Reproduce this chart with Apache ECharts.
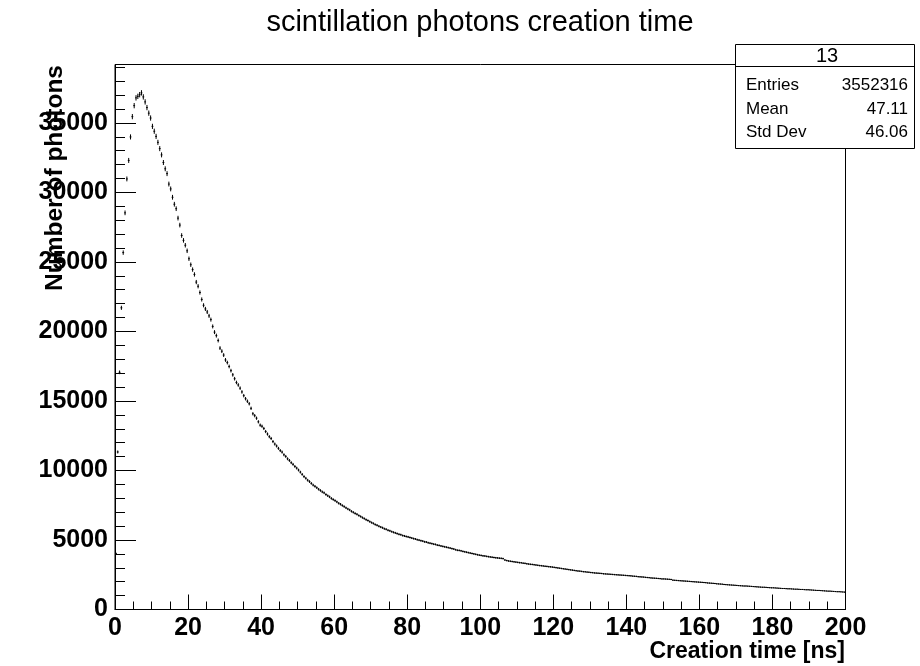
<!DOCTYPE html>
<html>
<head>
<meta charset="utf-8">
<script src="https://cdn.jsdelivr.net/npm/echarts@6/dist/echarts.min.js"></script>
<style>
  html, body { margin: 0; padding: 0; background: #fff; }
  #chart { width: 920px; height: 666px; }
</style>
</head>
<body>
<div id="chart"></div>
<script>
// histogram: 400 bins of 0.5 ns from 0 to 200 ns
var binStart = 0;
var binWidth = 0.5;

var counts0to40 = [
  4030, 11330, 17060, 21700, 25670, 28530, 30970, 32300, 33990, 35450,
  36240, 36800, 36910, 37030, 37160, 36870, 36510, 36100, 35700, 35350,
  34750, 34400, 34030, 33600, 33150, 32700, 32150, 31700, 31350, 30600,
  30250, 29650, 29150, 28830, 28150, 27650, 26900, 26550, 26200, 25800,
  25230, 24800, 24450, 24100, 23550, 23250, 22800, 22300, 21880, 21620,
  21400, 21120, 20850, 20360, 19950, 19700, 19350, 18800, 18580, 18300,
  17950, 17760, 17480, 17180, 16880, 16600, 16330, 16150, 15920, 15650,
  15380, 15160, 14980, 14800, 14470, 14080, 13940, 13760, 13500, 13260
];

var counts40to100 = [
  13180, 13020, 12800, 12620, 12430, 12300, 12080, 11900, 11760, 11590,
  11430, 11320, 11130, 11010, 10840, 10720, 10560, 10440, 10290, 10170,
  10030, 9880, 9720, 9560, 9440, 9300, 9200, 9070, 8950, 8860,
  8760, 8650, 8560, 8460, 8390, 8270, 8180, 8100, 7990, 7910,
  7830, 7740, 7640, 7570, 7480, 7400, 7310, 7230, 7160, 7060,
  6990, 6910, 6850, 6760, 6690, 6610, 6540, 6460, 6400, 6320,
  6250, 6190, 6110, 6060, 5990, 5930, 5880, 5810, 5770, 5700,
  5660, 5600, 5550, 5510, 5460, 5410, 5380, 5320, 5290, 5250,
  5220, 5180, 5140, 5100, 5070, 5020, 4990, 4950, 4920, 4870,
  4850, 4800, 4770, 4740, 4700, 4680, 4630, 4610, 4570, 4540,
  4510, 4480, 4450, 4420, 4380, 4350, 4300, 4260, 4250, 4220,
  4180, 4150, 4120, 4090, 4060, 4030, 4000, 3970, 3940, 3910
];

var counts100to200 = [
  3890, 3860, 3850, 3820, 3800, 3780, 3760, 3740, 3720, 3710,
  3690, 3680, 3660, 3560, 3520, 3490, 3470, 3450, 3430, 3410,
  3390, 3370, 3360, 3330, 3320, 3290, 3270, 3250, 3240, 3220,
  3200, 3180, 3160, 3150, 3130, 3110, 3100, 3080, 3070, 3050,
  3030, 3010, 2990, 2970, 2950, 2930, 2910, 2890, 2870, 2850,
  2830, 2810, 2790, 2770, 2760, 2740, 2720, 2710, 2690, 2680,
  2660, 2650, 2630, 2620, 2610, 2600, 2590, 2570, 2560, 2550,
  2540, 2530, 2520, 2510, 2500, 2490, 2480, 2470, 2460, 2450,
  2440, 2430, 2420, 2400, 2390, 2380, 2360, 2350, 2340, 2330,
  2310, 2300, 2290, 2270, 2260, 2250, 2240, 2230, 2220, 2200,
  2200, 2190, 2180, 2170, 2160, 2110, 2100, 2090, 2080, 2070,
  2060, 2050, 2040, 2030, 2020, 2010, 2000, 1990, 1980, 1970,
  1960, 1950, 1940, 1930, 1910, 1900, 1890, 1880, 1870, 1850,
  1840, 1830, 1820, 1800, 1790, 1780, 1770, 1760, 1750, 1740,
  1730, 1720, 1710, 1700, 1690, 1690, 1680, 1670, 1660, 1650,
  1640, 1630, 1620, 1610, 1600, 1600, 1590, 1580, 1570, 1560,
  1560, 1550, 1540, 1530, 1520, 1510, 1510, 1500, 1490, 1490,
  1480, 1470, 1460, 1460, 1450, 1440, 1440, 1430, 1420, 1420,
  1410, 1400, 1390, 1380, 1370, 1370, 1360, 1350, 1340, 1330,
  1320, 1320, 1310, 1300, 1290, 1280, 1280, 1270, 1260, 1250
];

var statsTitle = '13';
var statsLabels = ['Entries', 'Mean', 'Std Dev'];
var statsValues = ['3552316', '47.11', '46.06'];

var counts = counts0to40.concat(counts40to100, counts100to200);
var points = counts.map(function(v, i) {
  return [binStart + binWidth * (i + 0.5), v];
});

var fam = '"Liberation Sans", Arial, Helvetica, sans-serif';
var chart = echarts.init(document.getElementById('chart'), null, { renderer: 'canvas' });

function txt(x, y, s, font, align, vAlign, rot) {
  return {
    type: 'text', x: x, y: y, rotation: rot || 0, z: 100,
    style: { text: s, font: font, fill: '#000', align: align, verticalAlign: vAlign,
             textAlign: align, textVerticalAlign: vAlign }
  };
}

var box = { x: 735.5, y: 44.5, w: 179, h: 104 };
var graphics = [
  txt(480, 23, 'scintillation photons creation time', 'normal 29px ' + fam, 'center', 'middle'),
  txt(845, 652, 'Creation time [ns]', 'bold 23px ' + fam, 'right', 'middle'),
  txt(55, 65, 'Number of photons', 'bold 24.5px ' + fam, 'right', 'middle', Math.PI / 2),
  { type: 'rect', z: 99, shape: { x: box.x, y: box.y, width: box.w, height: box.h },
    style: { fill: '#fff', stroke: '#000', lineWidth: 1 } },
  { type: 'line', z: 100, shape: { x1: box.x, y1: 66.5, x2: box.x + box.w, y2: 66.5 },
    style: { stroke: '#000', lineWidth: 1 } },
  txt(827, 56, statsTitle, 'normal 20px ' + fam, 'center', 'middle')
];
var rowY = [85, 109, 132];
statsLabels.forEach(function(l, i) {
  graphics.push(txt(746, rowY[i], l, 'normal 17px ' + fam, 'left', 'middle'));
  graphics.push(txt(908, rowY[i], statsValues[i], 'normal 17px ' + fam, 'right', 'middle'));
});

function plain(v) { return String(v); }

chart.setOption({
  animation: false,
  backgroundColor: '#fff',
  grid: {
    left: 115, right: 74.5, top: 64.5, bottom: 56.5,
    show: true, borderColor: '#000', borderWidth: 1, backgroundColor: 'transparent'
  },
  xAxis: {
    type: 'value', min: 0, max: 200, interval: 20,
    axisLine: { show: true, lineStyle: { color: '#000', width: 1 } },
    axisTick: { show: true, inside: true, length: 15, lineStyle: { color: '#000' } },
    minorTick: { show: true, splitNumber: 4, length: 8, lineStyle: { color: '#000' } },
    splitLine: { show: false },
    axisLabel: { color: '#000', fontFamily: fam, fontWeight: 'bold', fontSize: 25, margin: 6,
                 formatter: plain }
  },
  yAxis: [{
    type: 'value', min: 0, max: 39200, interval: 5000, position: 'left',
    axisLine: { show: true, lineStyle: { color: '#000', width: 1 } },
    axisTick: { show: true, inside: true, length: 21, lineStyle: { color: '#000' } },
    splitLine: { show: false },
    axisLabel: { color: '#000', fontFamily: fam, fontWeight: 'bold', fontSize: 25, margin: 7,
                 showMaxLabel: false, formatter: plain }
  }, {
    type: 'value', min: 0, max: 39200, interval: 1000, position: 'left', offset: 0,
    axisLine: { show: false },
    axisTick: { show: true, inside: true, length: 10, lineStyle: { color: '#000' } },
    splitLine: { show: false },
    axisLabel: { show: false }
  }],
  series: [{
    type: 'custom',
    xAxisIndex: 0,
    yAxisIndex: 0,
    data: points,
    clip: true,
    renderItem: function(params, api) {
      var t = api.value(0), v = api.value(1), e = Math.sqrt(v);
      var l = api.coord([t - binWidth / 2, v]);
      var r = api.coord([t + binWidth / 2, v]);
      var lo = api.coord([t, v - e]);
      var hi = api.coord([t, v + e]);
      return {
        type: 'group',
        children: [
          { type: 'line', shape: { x1: l[0], y1: l[1], x2: r[0], y2: r[1] },
            style: { stroke: '#000', lineWidth: 1 } },
          { type: 'line', shape: { x1: lo[0], y1: lo[1], x2: hi[0], y2: hi[1] },
            style: { stroke: '#000', lineWidth: 1 } }
        ]
      };
    }
  }],
  graphic: graphics
});
</script>
</body>
</html>
